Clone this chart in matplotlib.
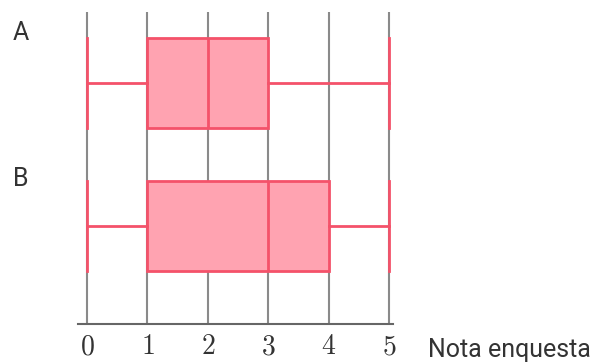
import matplotlib
matplotlib.use("Agg")
import matplotlib.pyplot as plt

groups = ["A", "B"]
mins = [0, 0]
q1s = [1, 1]
medians = [2, 3]
q3s = [3, 4]
maxs = [5, 5]
ticks = [0, 1, 2, 3, 4, 5]
xlabel = "Nota enquesta"

plt.rcParams["mathtext.fontset"] = "cm"

fig = plt.figure(figsize=(6.06, 3.63), dpi=100)
W, H = 606, 363
ax = fig.add_axes([78 / W, 1 - 324 / H, (393 - 78) / W, (324 - 12) / H])

edge = "#f4526a"
fill = "#ffa3b1"
grid_c = "#8a8a8a"

for t in ticks:
    ax.axvline(t, color=grid_c, lw=1.5, zorder=0)

stats = []
for g, lo, a, m, b, hi in zip(groups, mins, q1s, medians, q3s, maxs):
    stats.append(dict(label=g, whislo=lo, q1=a, med=m, q3=b, whishi=hi, fliers=[]))

positions = [1, 2]
bw = 0.63
ax.bxp(stats, positions=positions, widths=bw, capwidths=bw, vert=False,
       patch_artist=True, showfliers=False,
       boxprops=dict(facecolor=fill, edgecolor=edge, lw=2),
       medianprops=dict(color=edge, lw=2),
       whiskerprops=dict(color=edge, lw=2),
       capprops=dict(color=edge, lw=2))

ax.set_xlim((78 - 87) / 60.4, (393 - 87) / 60.4)
ax.set_ylim(2 + (324 - 226) / 143, 1 - (83 - 12) / 143)

for s in ["top", "right", "left"]:
    ax.spines[s].set_visible(False)
ax.spines["bottom"].set_color("#666666")
ax.spines["bottom"].set_linewidth(1.5)
ax.set_yticks([])
ax.set_xticks(ticks)
ax.set_xticklabels([f"${t}$" for t in ticks], fontsize=20, color="#333333")
ax.tick_params(axis="x", length=0, pad=6)

label_y = [30, 177]
for g, yy in zip(groups, label_y):
    fig.text(13 / W, 1 - yy / H, g, fontsize=18, family="Roboto",
             color="#333333", va="center_baseline", ha="left")

fig.text(428 / W, 1 - 347 / H, xlabel, fontsize=18, family="Roboto",
         color="#333333", va="center_baseline", ha="left")

fig.savefig("out.png", dpi=100)
